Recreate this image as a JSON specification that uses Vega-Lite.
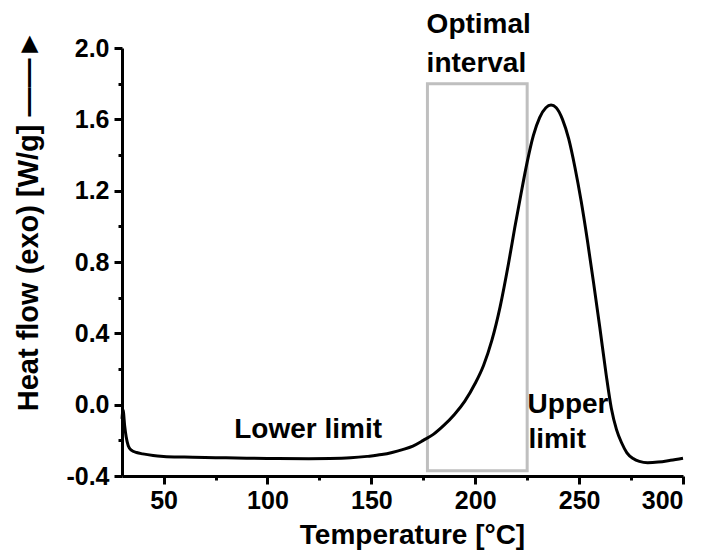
{
  "$schema": "https://vega.github.io/schema/vega-lite/v6.json",
  "width": 561,
  "height": 428,
  "autosize": "none",
  "padding": {"left": 122, "top": 48, "right": 24, "bottom": 74},
  "background": "white",
  "config": {
    "view": {"stroke": null},
    "font": "Liberation Sans",
    "axis": {
      "grid": false,
      "domainColor": "black",
      "domainWidth": 3,
      "tickColor": "black",
      "tickWidth": 3,
      "labelFont": "Liberation Sans",
      "labelFontWeight": "bold",
      "labelFontSize": 25,
      "labelColor": "black",
      "titleFont": "Liberation Sans",
      "titleFontWeight": "bold",
      "titleFontSize": 28,
      "titleColor": "black"
    }
  },
  "datasets": {
    "curve": [
      {"t": 30, "h": -0.08}, {"t": 30.5, "h": -0.03}, {"t": 31.3, "h": -0.12}, {"t": 32, "h": -0.18},
      {"t": 33, "h": -0.23}, {"t": 34.5, "h": -0.255}, {"t": 37, "h": -0.268}, {"t": 40, "h": -0.276},
      {"t": 45, "h": -0.285}, {"t": 50, "h": -0.29}, {"t": 60, "h": -0.294}, {"t": 75, "h": -0.297},
      {"t": 90, "h": -0.3}, {"t": 105, "h": -0.302}, {"t": 120, "h": -0.303}, {"t": 130, "h": -0.302},
      {"t": 140, "h": -0.298}, {"t": 148, "h": -0.29}, {"t": 155, "h": -0.28}, {"t": 160, "h": -0.268},
      {"t": 165, "h": -0.252}, {"t": 170, "h": -0.232}, {"t": 175, "h": -0.2}, {"t": 180, "h": -0.165},
      {"t": 185, "h": -0.115}, {"t": 190, "h": -0.055}, {"t": 195, "h": 0.02}, {"t": 200, "h": 0.12},
      {"t": 204, "h": 0.22}, {"t": 208, "h": 0.36}, {"t": 212, "h": 0.55}, {"t": 216, "h": 0.79},
      {"t": 219, "h": 0.99}, {"t": 222, "h": 1.18}, {"t": 225, "h": 1.36}, {"t": 228, "h": 1.51},
      {"t": 231, "h": 1.61}, {"t": 234, "h": 1.665}, {"t": 236.5, "h": 1.68}, {"t": 239, "h": 1.665},
      {"t": 242, "h": 1.6}, {"t": 245, "h": 1.49}, {"t": 248, "h": 1.33}, {"t": 251, "h": 1.14},
      {"t": 254, "h": 0.92}, {"t": 257, "h": 0.68}, {"t": 260, "h": 0.43}, {"t": 263, "h": 0.17},
      {"t": 265.5, "h": -0.02}, {"t": 268, "h": -0.14}, {"t": 270.5, "h": -0.215}, {"t": 273, "h": -0.27},
      {"t": 276, "h": -0.302}, {"t": 279, "h": -0.318}, {"t": 283, "h": -0.325}, {"t": 288, "h": -0.322},
      {"t": 294, "h": -0.312}, {"t": 300, "h": -0.3}
    ],
    "box": [{"t": 177, "t2": 225, "h": -0.37, "h2": 1.8}],
    "notes": [
      {"t": 84, "h": -0.187, "text": "Lower limit"},
      {"t": 225.2, "h": -0.045, "text": "Upper"},
      {"t": 225.6, "h": -0.243, "text": "limit"},
      {"t": 176.6, "h": 2.085, "text": "Optimal"},
      {"t": 176.6, "h": 1.866, "text": "interval"}
    ]
  },
  "encoding": {
    "x": {
      "field": "t",
      "type": "quantitative",
      "scale": {"domain": [30, 300], "nice": false, "zero": false},
      "axis": {
        "title": "Temperature [°C]",
        "values": [50, 75, 100, 125, 150, 175, 200, 225, 250, 275, 300],
        "labelExpr": "datum.value % 50 == 0 ? datum.label : ''",
        "tickSize": {"condition": {"test": "datum.value % 50 != 0", "value": 4}, "value": 8},
        "labelPadding": 4,
        "titleX": 290,
        "titleY": 67,
        "titleAlign": "center",
        "titleBaseline": "alphabetic"
      }
    },
    "y": {
      "field": "h",
      "type": "quantitative",
      "scale": {"domain": [-0.4, 2.0], "nice": false, "zero": false},
      "axis": {
        "title": "Heat flow (exo) [W/g]  ——►",
        "values": [-0.4, -0.2, 0, 0.2, 0.4, 0.6, 0.8, 1.0, 1.2, 1.4, 1.6, 1.8, 2.0],
        "labelExpr": "round(datum.value*10) % 4 == 0 ? replace(format(datum.value, '.1f'), '\u2212', '-') : ''",
        "tickSize": {"condition": {"test": "round(datum.value*10) % 4 != 0", "value": 4}, "value": 8},
        "labelPadding": 5,
        "titleAngle": -90,
        "titleFontSize": 29,
        "titleX": -85,
        "titleY": 172,
        "titleAlign": "center",
        "titleBaseline": "alphabetic"
      }
    }
  },
  "layer": [
    {
      "data": {"name": "box"},
      "mark": {"type": "rect", "filled": false, "color": "#bfbfbf", "strokeWidth": 3},
      "encoding": {"x2": {"field": "t2"}, "y2": {"field": "h2"}}
    },
    {
      "data": {"name": "curve"},
      "mark": {"type": "line", "color": "black", "strokeWidth": 3, "interpolate": "monotone"}
    },
    {
      "data": {"name": "notes"},
      "mark": {"type": "text", "align": "left", "baseline": "alphabetic", "font": "Liberation Sans", "fontSize": 28, "fontWeight": "bold", "color": "black"},
      "encoding": {"text": {"field": "text"}}
    }
  ]
}
